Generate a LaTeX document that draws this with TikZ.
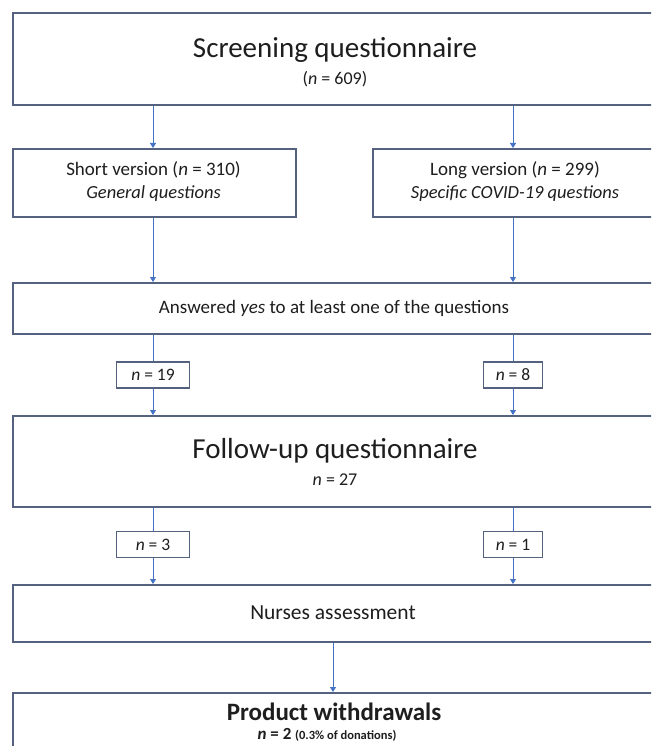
\documentclass[tikz,border=0pt]{standalone}
\usepackage{fontspec}
\setmainfont{Carlito}
\usetikzlibrary{arrows.meta,positioning}
\definecolor{boxline}{RGB}{84,98,128}
\definecolor{arrowblue}{RGB}{68,114,196}
\definecolor{txt}{RGB}{30,30,30}
\tikzset{
  box/.style={draw=boxline, line width=1.6pt, fill=white, inner sep=0pt, anchor=north west},
  lbl/.style={text=txt, inner sep=0pt, anchor=center},
  nbox/.style={draw=boxline, line width=1.3pt, fill=white, text=txt, inner sep=0pt, minimum height=26pt, font=\fontsize{17.5}{20}\selectfont, anchor=center},
  arr/.style={draw=arrowblue, line width=0.9pt, -{Triangle[width=6pt,length=5pt]}},
  plain/.style={draw=arrowblue, line width=0.9pt},
}
\newcommand{\fs}[1]{\fontsize{#1}{#1}\selectfont}
\begin{document}
\begin{tikzpicture}[x=1pt,y=-1pt]
\useasboundingbox (0,0) rectangle (651,746);
\clip (0,0) rectangle (651,746);
% boxes
\node[box, minimum width=646pt, minimum height=92pt] (top) at (12,12) {};
\node[box, minimum width=283pt, minimum height=68pt] (short) at (12,148) {};
\node[box, minimum width=287pt, minimum height=68pt] (long) at (372,148) {};
\node[box, minimum width=646pt, minimum height=51pt] (ans) at (12,282) {};
\node[nbox, minimum width=73pt] (n19) at (153,375) {\textit{n} = 19};
\node[nbox, minimum width=59pt] (n8) at (513,375) {\textit{n} = 8};
\node[box, minimum width=646pt, minimum height=91pt] (fu) at (12,415) {};
\node[nbox, minimum width=73pt] (n3) at (153,544.5) {\textit{n} = 3};
\node[nbox, minimum width=59pt] (n1) at (513,544.5) {\textit{n} = 1};
\node[box, minimum width=646pt, minimum height=57pt] (nurse) at (12,584) {};
\node[box, minimum width=646pt, minimum height=90pt] (prod) at (12,692) {};
% texts
\node[lbl, font=\fs{29}] (t1) at (335,50) {Screening questionnaire};
\node[lbl, font=\fs{18}] (t1n) at (335,79) {(\textit{n} = 609)};
\node[lbl, font=\fs{19}] (t2) at (153.5,170) {Short version (\textit{n} = 310)};
\node[lbl, font=\fs{18.5}\itshape] (t2b) at (153.5,194) {General questions};
\node[lbl, font=\fs{19}] (t3) at (515,170) {Long version (\textit{n} = 299)};
\node[lbl, font=\fs{18.5}\itshape] (t3b) at (515,194) {Specific COVID-19 questions};
\node[lbl, font=\fs{19}] (t4) at (334,308) {Answered \textit{yes} to at least one of the questions};
\node[lbl, font=\fs{29}] (t5) at (335,451) {Follow-up questionnaire};
\node[lbl, font=\fs{18}] (t5n) at (335,480) {\textit{n} = 27};
\node[lbl, font=\fs{21.5}] (t6) at (333,613) {Nurses assessment};
\node[lbl, font=\fs{25}\bfseries] (t7) at (334,712) {Product withdrawals};
\node[lbl, font=\fs{17}\bfseries] (t7n) at (327,735) {\textit{n} = 2 {\fs{12.5}(0.3\% of donations)}};
% connectors
\draw[arr] (top.south -| n19.north) -- (short.north -| n19.north);
\draw[arr] (top.south -| n8.north) -- (long.north -| n8.north);
\draw[arr] (short.south -| n19.north) -- (ans.north -| n19.north);
\draw[arr] (long.south -| n8.north) -- (ans.north -| n8.north);
\draw[plain] (ans.south -| n19.north) -- (n19.north);
\draw[plain] (ans.south -| n8.north) -- (n8.north);
\draw[arr] (n19.south) -- (fu.north -| n19.south);
\draw[arr] (n8.south) -- (fu.north -| n8.south);
\draw[plain] (fu.south -| n3.north) -- (n3.north);
\draw[plain] (fu.south -| n1.north) -- (n1.north);
\draw[arr] (n3.south) -- (nurse.north -| n3.south);
\draw[arr] (n1.south) -- (nurse.north -| n1.south);
\draw[arr] (nurse.south -| t6) -- (prod.north -| t6);
\end{tikzpicture}
\end{document}
